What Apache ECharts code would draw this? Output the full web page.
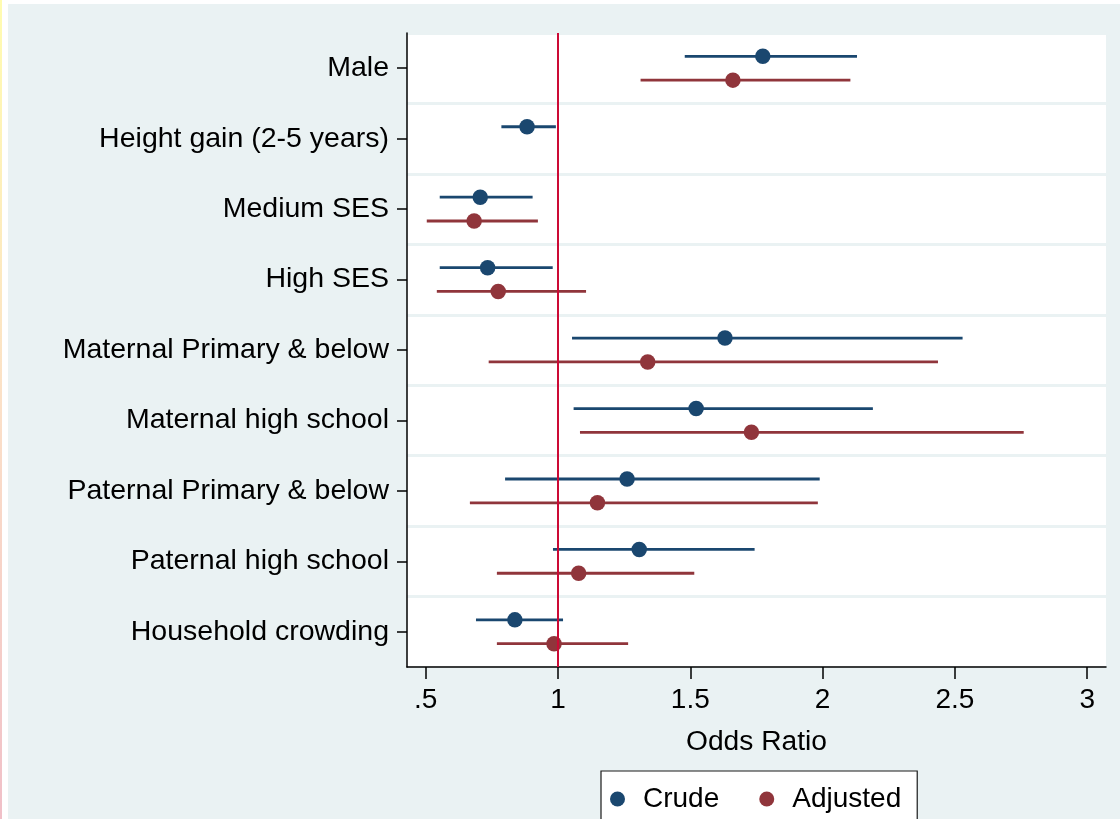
<!DOCTYPE html>
<html>
<head>
<meta charset="utf-8">
<script src="https://cdn.jsdelivr.net/npm/echarts@6/dist/echarts.min.js"></script>
<style>
  html, body { margin: 0; padding: 0; background: #ffffff; }
  #chart { width: 1120px; height: 819px; }
</style>
</head>
<body>
<div id="chart"></div>
<script>
// ---- data ----
var categories = [
  'Male',
  'Height gain (2-5 years)',
  'Medium SES',
  'High SES',
  'Maternal Primary & below',
  'Maternal high school',
  'Paternal Primary & below',
  'Paternal high school',
  'Household crowding'
];
var crudeOR = [1.774, 0.883, 0.706, 0.734, 1.631, 1.522, 1.261, 1.307, 0.837];
var crudeLo = [1.479, 0.786, 0.553, 0.553, 1.053, 1.059, 0.800, 0.981, 0.690];
var crudeHi = [2.130, 0.992, 0.904, 0.980, 2.529, 2.190, 1.989, 1.743, 1.019];
var adjOR   = [1.661, null,  0.683, 0.774, 1.339, 1.731, 1.149, 1.078, 0.985];
var adjLo   = [1.312, null,  0.504, 0.542, 0.738, 1.083, 0.667, 0.769, 0.769];
var adjHi   = [2.105, null,  0.924, 1.106, 2.436, 2.760, 1.982, 1.515, 1.265];
var xTicks  = [0.5, 1, 1.5, 2, 2.5, 3];
var refLine = 1;

// ---- styling ----
var FONT = "'Liberation Sans', Arial, Helvetica, sans-serif";
var NAVY = '#1a476f';
var MAROON = '#90353b';
var BG = '#eaf2f3';
var OFFSET = 0.169;
var catIdx = categories.map(function (c, i) { return i; });

function buildPoints(or, off) {
  var out = [];
  for (var i = 0; i < or.length; i++) {
    if (or[i] != null) out.push([or[i], i + off]);
  }
  return out;
}
function buildCI(lo, hi, off) {
  var out = [];
  for (var i = 0; i < lo.length; i++) {
    if (lo[i] != null) out.push([lo[i], hi[i], i + off]);
  }
  return out;
}
function ciRender(color) {
  return function (params, api) {
    var p1 = api.coord([api.value(0), api.value(2)]);
    var p2 = api.coord([api.value(1), api.value(2)]);
    return {
      type: 'line',
      shape: { x1: p1[0], y1: p1[1], x2: p2[0], y2: p2[1] },
      style: { stroke: color, lineWidth: 2.8 }
    };
  };
}

var chart = echarts.init(document.getElementById('chart'), null, { renderer: 'canvas' });
chart.setOption({
  backgroundColor: BG,
  animation: false,
  graphic: [
    { type: 'rect', shape: { x: 0, y: 0, width: 8, height: 819 }, style: { fill: '#ffffff' }, z: 100 },
    { type: 'rect', shape: { x: 0, y: 0, width: 1120, height: 4 }, style: { fill: '#ffffff' }, z: 100 },
    { type: 'rect', shape: { x: 0, y: 0, width: 2, height: 819 },
      style: { fill: new echarts.graphic.LinearGradient(0, 0, 0, 1, [
        { offset: 0, color: '#fffcb0' }, { offset: 0.5, color: '#fbe0c8' }, { offset: 1, color: '#f0c0c8' }
      ]) }, z: 101 }
  ],
  grid: {
    left: 407, top: 33, right: 14, bottom: 152,
    containLabel: false, outerBoundsMode: 'none',
    show: true, backgroundColor: '#ffffff', borderWidth: 0
  },
  legend: {
    data: [{ name: 'Crude', icon: 'circle' }, { name: 'Adjusted', icon: 'circle' }],
    left: 601, top: 771, orient: 'horizontal',
    itemWidth: 15, itemHeight: 15, itemGap: 40,
    padding: [14, 16, 13, 9],
    borderColor: '#1a1a1a', borderWidth: 1.2, backgroundColor: '#ffffff',
    selectedMode: false,
    textStyle: { fontSize: 28, color: '#000000', fontFamily: FONT, padding: [0, 0, 0, 13] }
  },
  xAxis: {
    type: 'value',
    min: 0.4293, max: 3.071,
    name: 'Odds Ratio', nameLocation: 'middle', nameGap: 61,
    nameTextStyle: { fontSize: 28.2, color: '#000000', fontFamily: FONT },
    axisLine: { show: true, onZero: false, lineStyle: { color: '#000000', width: 1.5 } },
    axisTick: { show: true, length: 12, customValues: xTicks, lineStyle: { color: '#000000', width: 1.5 } },
    axisLabel: {
      show: true, customValues: xTicks, margin: 19,
      fontSize: 28, color: '#000000', fontFamily: FONT,
      formatter: function (v) { return v === 0.5 ? '.5' : String(v); }
    },
    splitLine: { show: false }
  },
  yAxis: [
    {
      type: 'value', inverse: true, position: 'left',
      min: -0.5, max: categories.length - 0.5, interval: 1,
      axisLine: { show: true, onZero: false, lineStyle: { color: '#000000', width: 1.5 } },
      axisTick: { show: false },
      axisLabel: { show: false },
      splitLine: { show: true, lineStyle: { color: BG, width: 3 } }
    },
    {
      type: 'value', inverse: true, position: 'left', offset: 0,
      min: -0.5, max: categories.length - 0.5,
      axisLine: { show: false, onZero: false },
      axisTick: { show: true, length: 10, customValues: catIdx, lineStyle: { color: '#000000', width: 1.5 } },
      axisLabel: {
        show: true, customValues: catIdx, margin: 18,
        fontSize: 28.5, color: '#000000', fontFamily: FONT,
        padding: [8, 0, 0, 0],
        formatter: function (v) { return categories[Math.round(v)]; }
      },
      splitLine: { show: false }
    }
  ],
  series: [
    {
      type: 'custom', name: 'crudeCI', z: 2,
      renderItem: ciRender(NAVY),
      encode: { x: [0, 1], y: 2 },
      data: buildCI(crudeLo, crudeHi, -OFFSET)
    },
    {
      type: 'custom', name: 'adjCI', z: 2,
      renderItem: ciRender(MAROON),
      encode: { x: [0, 1], y: 2 },
      data: buildCI(adjLo, adjHi, OFFSET)
    },
    {
      type: 'line', name: 'ref', z: 3, data: [],
      markLine: {
        silent: true, symbol: ['none', 'none'],
        label: { show: false },
        lineStyle: { color: '#cc0a35', width: 2, type: 'solid' },
        data: [{ xAxis: refLine }]
      }
    },
    {
      type: 'scatter', name: 'Crude', z: 4,
      symbol: 'circle', symbolSize: 15.5,
      itemStyle: { color: NAVY, opacity: 1 },
      data: buildPoints(crudeOR, -OFFSET)
    },
    {
      type: 'scatter', name: 'Adjusted', z: 4,
      symbol: 'circle', symbolSize: 15.5,
      itemStyle: { color: MAROON, opacity: 1 },
      data: buildPoints(adjOR, OFFSET)
    }
  ]
});
</script>
</body>
</html>
